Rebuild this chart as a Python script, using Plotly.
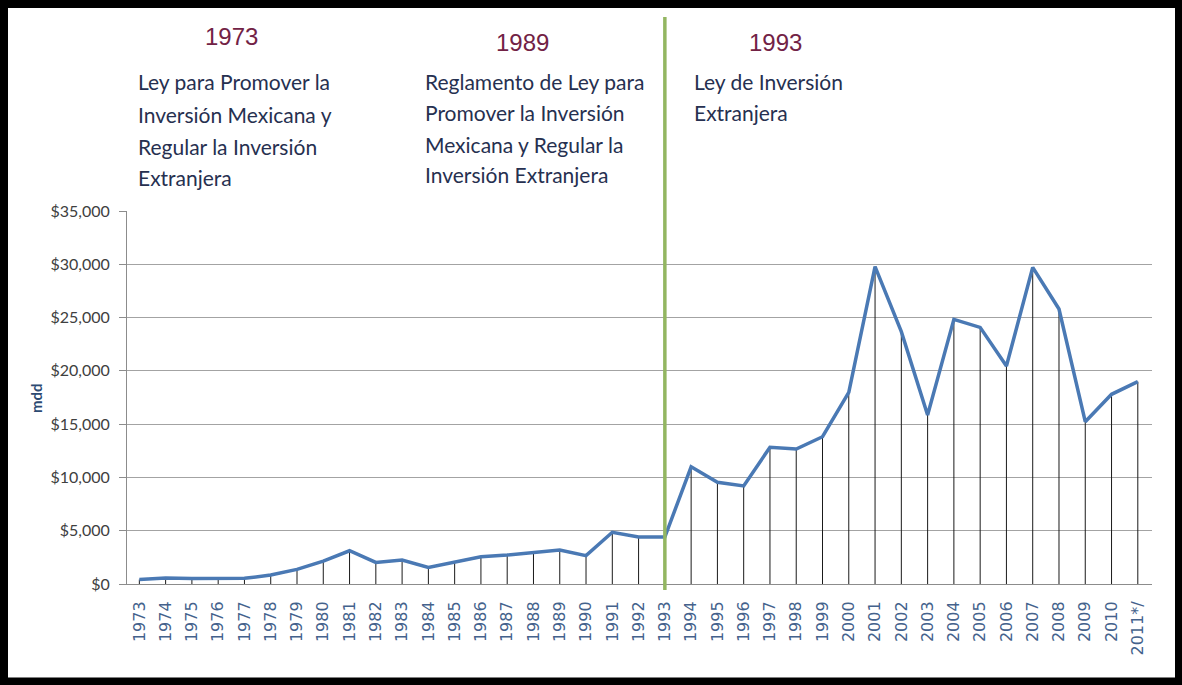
import plotly.graph_objects as go

# Inversión extranjera directa en México, millones de dólares (mdd)
years = [str(y) for y in range(1973, 2011)] + ["2011*/"]
ied_mdd = [
    420, 560, 510, 530, 530, 840, 1370, 2150, 3120, 2030,
    2240, 1560, 2090, 2560, 2720, 2940, 3190, 2660, 4850, 4410,
    4410, 11000, 9540, 9200, 12830, 12670, 13820, 17990, 29780, 23680,
    15860, 24830, 24080, 20450, 29710, 25800, 15230, 17800, 18990,
]

y_ticks = [0, 5000, 10000, 15000, 20000, 25000, 30000, 35000]
y_tick_labels = ["$" + format(v, ",d") for v in y_ticks]

# Hitos legales anotados sobre la gráfica
hito_anios = ["1973", "1989", "1993"]
hito_textos = [
    ["Ley para Promover la", "Inversión Mexicana y", "Regular la Inversión", "Extranjera"],
    ["Reglamento de Ley para", "Promover la Inversión", "Mexicana y Regular la", "Inversión Extranjera"],
    ["Ley de Inversión", "Extranjera"],
]
anio_corte = "1993"

W, H = 1182, 685
ML, MR, MT, MB = 127, 30, 211, 101
PW, PH = W - ML - MR, H - MT - MB


def px_x(px):
    return (px - ML) / PW


def px_y(py):
    return (H - MB - py) / PH


fig = go.Figure()

# Líneas de caída desde cada punto hasta el eje
drop_x, drop_y = [], []
for cat, val in zip(years, ied_mdd):
    drop_x += [cat, cat, None]
    drop_y += [0, val, None]
fig.add_trace(go.Scatter(
    x=drop_x, y=drop_y, mode="lines",
    line=dict(color="#1a1a1a", width=1), hoverinfo="skip", showlegend=False,
))

# Serie principal
fig.add_trace(go.Scatter(
    x=years, y=ied_mdd, mode="lines",
    line=dict(color="#4a79b4", width=3.5), showlegend=False,
))

corte_idx = years.index(anio_corte)
shapes = [
    # línea vertical verde en 1993
    dict(type="line", xref="x", yref="paper", x0=corte_idx, x1=corte_idx,
         y0=px_y(590), y1=px_y(17), line=dict(color="#93b661", width=3.5), layer="above"),
    # marco negro
    dict(type="rect", xref="paper", yref="paper",
         x0=px_x(4), x1=px_x(1179), y0=px_y(4), y1=px_y(681.5),
         line=dict(color="black", width=8), layer="above"),
]

annotations = []
# posiciones de los bloques de texto (píxeles)
anio_pos = [(231, 37), (522, 43), (775, 43)]
texto_izq = [136, 423, 692]
texto_lineas_y = [[81, 114, 146, 178], [81, 112, 144, 175], [81, 112]]

for anio, (ax_, ay_), lineas, xl, ys in zip(hito_anios, anio_pos, hito_textos, texto_izq, texto_lineas_y):
    annotations.append(dict(
        text=anio, xref="paper", yref="paper", x=px_x(ax_), y=px_y(ay_),
        xanchor="center", yanchor="middle", showarrow=False,
        font=dict(family="Liberation Sans, Arial", size=24, color="#722245"),
    ))
    for linea, ly in zip(lineas, ys):
        annotations.append(dict(
            text=linea, xref="paper", yref="paper", x=px_x(xl), y=px_y(ly),
            xanchor="left", yanchor="middle", showarrow=False,
            font=dict(family="Lato", size=21, color="#263050"),
        ))

annotations.append(dict(
    text="<b>mdd</b>", xref="paper", yref="paper", x=px_x(36), y=px_y(398),
    xanchor="center", yanchor="middle", textangle=-90, showarrow=False,
    font=dict(family="Lato", size=15, color="#2c4a72"),
))

fig.update_layout(
    width=W, height=H, autosize=False,
    margin=dict(l=ML, r=MR, t=MT, b=MB, pad=0),
    paper_bgcolor="white", plot_bgcolor="white",
    shapes=shapes, annotations=annotations,
    xaxis=dict(
        type="category", categoryorder="array", categoryarray=years,
        range=[-0.47, 38.54], showgrid=False, zeroline=False,
        showline=True, linecolor="#8c8c8c", linewidth=1,
        ticks="", tickangle=-90, ticklabelstandoff=10,
        tickfont=dict(family="DejaVu Sans", size=16, color="#44628c"),
    ),
    yaxis=dict(
        range=[0, 35000], tickmode="array", tickvals=y_ticks, ticktext=y_tick_labels,
        showgrid=True, gridcolor="#a3a3a3", gridwidth=1, zeroline=False,
        showline=True, linecolor="#8c8c8c", linewidth=1,
        ticks="outside", ticklen=7, tickcolor="#8c8c8c", ticklabelstandoff=6,
        tickfont=dict(family="Lato", size=16, color="#404040"),
    ),
)

fig.write_html("out.html")
